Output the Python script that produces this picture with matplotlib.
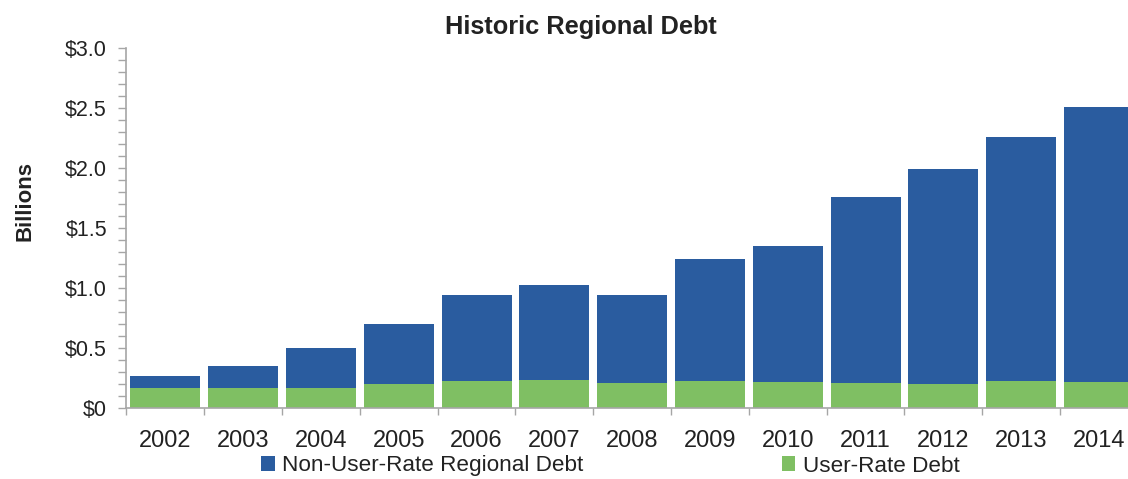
import numpy as np
import matplotlib.pyplot as plt
from matplotlib.ticker import MultipleLocator, FixedLocator

plt.rcParams['font.family'] = ['Liberation Sans', 'DejaVu Sans']

years = ['2002', '2003', '2004', '2005', '2006', '2007', '2008',
         '2009', '2010', '2011', '2012', '2013', '2014']
# billions of dollars
user_rate = [0.165, 0.165, 0.165, 0.195, 0.22, 0.23, 0.205,
             0.225, 0.215, 0.21, 0.195, 0.22, 0.215]
non_user_rate = [0.10, 0.185, 0.335, 0.505, 0.72, 0.79, 0.735,
                 1.015, 1.135, 1.55, 1.795, 2.035, 2.295]
yticks = [0, 0.5, 1.0, 1.5, 2.0, 2.5, 3.0]
ytick_labels = ['$0', '$0.5', '$1.0', '$1.5', '$2.0', '$2.5', '$3.0']

blue = '#2A5C9F'
green = '#7FBF63'
grey = '#A6A6A6'
txt = '#222222'

fig = plt.figure(figsize=(11.28, 4.79), dpi=100)
ax = fig.add_axes([0.1121, 0.1486, 0.8966, 0.7516])

x = np.arange(len(years))
ax.bar(x, user_rate, width=0.9, color=green, label='User-Rate Debt', zorder=2)
ax.bar(x, non_user_rate, width=0.9, bottom=user_rate, color=blue,
       label='Non-User-Rate Regional Debt', zorder=2)

ax.set_xlim(-0.5, len(years) - 0.5)
ax.set_ylim(0, 3.0)

ax.set_yticks(yticks)
ax.set_yticklabels(ytick_labels)
ax.yaxis.set_minor_locator(MultipleLocator(0.1))
ax.tick_params(axis='y', which='both', direction='out', length=6, width=1,
               color=grey, labelsize=15.5, labelcolor=txt, pad=8)

ax.set_xticks(x)
ax.set_xticklabels(years)
ax.xaxis.set_minor_locator(FixedLocator(np.arange(-0.5, len(years), 1.0)))
ax.tick_params(axis='x', which='major', length=0, labelsize=17,
               labelcolor=txt, pad=16)
ax.tick_params(axis='x', which='minor', direction='out', length=5,
               width=1, color=grey)

for side in ['top', 'right']:
    ax.spines[side].set_visible(False)
for side in ['left', 'bottom']:
    ax.spines[side].set_color(grey)
    ax.spines[side].set_linewidth(1.2)

fig.text(581 / 1128, 1 - 27 / 479, 'Historic Regional Debt', ha='center',
         va='center', fontsize=18.3, fontweight='bold', color=txt)
fig.text(25 / 1128, 1 - 201 / 479, 'Billions', ha='center', va='center',
         rotation=90, fontsize=16, fontweight='bold', color=txt)

handles, labels = ax.get_legend_handles_labels()
fig.legend(handles[::-1], labels[::-1], ncol=2, frameon=False,
           loc='center left', bbox_to_anchor=(261 / 1128, 1 - 466 / 479),
           borderpad=0, borderaxespad=0, fontsize=16.2, handlelength=0.6,
           handleheight=0.6, handletextpad=0.35, columnspacing=8.8,
           labelcolor=txt)

fig.savefig('out.png', dpi=100)
